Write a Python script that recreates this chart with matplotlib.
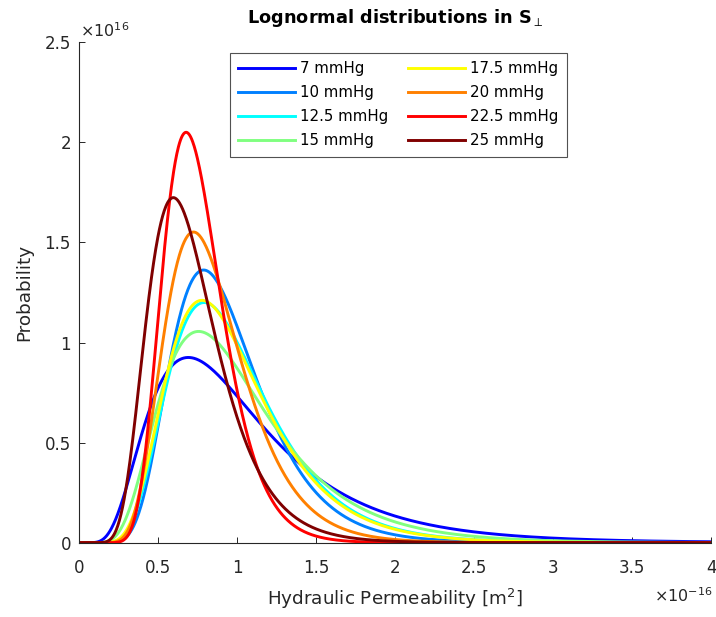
import numpy as np
import matplotlib.pyplot as plt

plt.rcParams['font.family'] = ['DejaVu Sans']

# pressure levels and lognormal parameters
labels = ['7 mmHg', '10 mmHg', '12.5 mmHg', '15 mmHg',
          '17.5 mmHg', '20 mmHg', '22.5 mmHg', '25 mmHg']
# mode of each curve (x 1e-16 m^2) and shape sigma
modes = [0.69, 0.787, 0.79, 0.755, 0.776, 0.723, 0.676, 0.595]
sigmas = [0.54, 0.35, 0.39, 0.452, 0.393, 0.336, 0.277, 0.364]
colors = ['#0000ff', '#0080ff', '#00ffff', '#80ff80',
          '#ffff00', '#ff8000', '#ff0000', '#800000']

xticks = [0, 0.5, 1, 1.5, 2, 2.5, 3, 3.5, 4]
yticks = [0, 0.5, 1, 1.5, 2, 2.5]

txt = '#262626'
W, H = 716, 617

fig = plt.figure(figsize=(7.16, 6.17), dpi=100)
ax = fig.add_axes([79.3 / W, 1 - 542.7 / H, 632 / W, 500.4 / H])

x = np.linspace(1e-4, 4, 1200)
for m, s, c, lab in zip(modes, sigmas, colors, labels):
    mu = np.log(m) + s**2
    pdf = np.exp(-(np.log(x) - mu)**2 / (2 * s**2)) / (x * s * np.sqrt(2 * np.pi))
    ax.plot(x, pdf, color=c, lw=2.1, label=lab)

ax.set_xlim(0, 4)
ax.set_ylim(0, 2.5)
ax.set_xticks(xticks)
ax.set_xticklabels(['0', '0.5', '1', '1.5', '2', '2.5', '3', '3.5', '4'])
ax.set_yticks(yticks)
ax.set_yticklabels(['0', '0.5', '1', '1.5', '2', '2.5'])
ax.tick_params(direction='in', length=4.5, width=0.7, colors=txt, labelsize=12)
ax.tick_params(axis='x', pad=12)
ax.tick_params(axis='y', pad=6)
for side in ['top', 'right']:
    ax.spines[side].set_visible(False)
for side in ['left', 'bottom']:
    ax.spines[side].set_color(txt)
    ax.spines[side].set_linewidth(0.8)

ax.set_xlabel('Hydraulic Permeability [m$^2$]', fontsize=13.2, color=txt)
ax.xaxis.label.set_verticalalignment('baseline')
ax.xaxis.set_label_coords(0.5, -62.3 / 500.4)
ax.set_ylabel('Probability', fontsize=13.2, color=txt)
ax.yaxis.set_label_coords(-46.3 / 632, 0.5)

fig.text(395.3 / W, 1 - 23 / H, r'Lognormal distributions in S$_\perp$', fontsize=12.8,
         fontweight='bold', color='black', ha='center', va='baseline')

fig.text(80 / W, 1 - 37 / H, '×10$^{16}$', fontsize=11.5, color=txt,
         ha='left', va='baseline')
fig.text(713 / W, 1 - 602 / H, '×10$^{-16}$', fontsize=11.5, color=txt,
         ha='right', va='baseline')

leg = ax.legend(ncol=2, loc='upper left', bbox_to_anchor=(230 / W, 1 - 53 / H),
                bbox_transform=fig.transFigure, borderaxespad=0, fontsize=10.8,
                frameon=True, fancybox=False, edgecolor='#262626', handlelength=3.8,
                handletextpad=0.35, columnspacing=1.3, labelspacing=0.6,
                borderpad=0.55)
leg.get_frame().set_linewidth(0.8)

fig.savefig('out.png', dpi=100)
